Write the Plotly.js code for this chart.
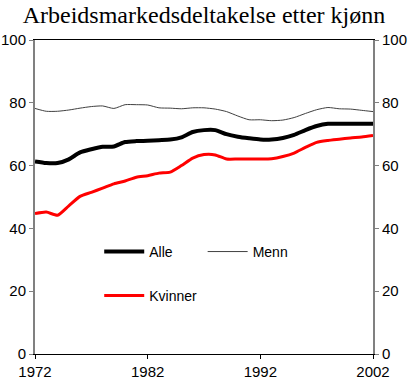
<!DOCTYPE html>
<html><head><meta charset="utf-8">
<script src="https://cdn.plot.ly/plotly-3.0.1.min.js"></script>
<style>html,body{margin:0;padding:0;background:#fff}#c{width:408px;height:384px}</style>
</head><body><div id="c"></div>
<script>
const years = [1972,1973,1974,1975,1976,1977,1978,1979,1980,1981,1982,1983,1984,1985,1986,1987,1988,1989,1990,1991,1992,1993,1994,1995,1996,1997,1998,1999,2000,2001,2002];
const alle = [61.3,60.8,60.8,62.0,64.2,65.2,66.0,66.1,67.5,67.8,67.9,68.1,68.3,69.0,70.7,71.3,71.3,70.0,69.2,68.7,68.3,68.3,68.8,69.8,71.3,72.6,73.3,73.3,73.3,73.3,73.3];
const menn = [78.2,77.3,77.3,77.7,78.3,78.8,79.0,78.2,79.4,79.4,79.3,78.4,78.3,78.1,78.4,78.4,78.0,77.2,75.8,74.6,74.6,74.3,74.5,75.3,76.6,77.8,78.5,78.1,78.0,77.6,77.2];
const kvinner = [44.7,45.2,44.2,47.2,50.2,51.5,52.8,54.2,55.1,56.3,56.8,57.6,57.9,60.0,62.4,63.5,63.4,62.1,62.1,62.1,62.1,62.2,62.9,64.0,65.8,67.4,68.0,68.4,68.8,69.1,69.6];
const titleText = "Arbeidsmarkedsdeltakelse etter kjønn";
const xTicks = [1972,1982,1992,2002];
const yTicks = [0,20,40,60,80,100];

const sans = "Liberation Sans, Arial, sans-serif";
const traces = [
  {x: years, y: alle, name: "Alle", mode: "lines", line: {color: "#000", width: 4, shape: "spline", smoothing: 0.6}, legend: "legend"},
  {x: years, y: menn, name: "Menn", mode: "lines", line: {color: "#404040", width: 1, shape: "spline", smoothing: 0.6}, legend: "legend2", yaxis: "y2"},
  {x: years, y: kvinner, name: "Kvinner", mode: "lines", line: {color: "#ff0000", width: 3, shape: "spline", smoothing: 0.6}, legend: "legend3"}
];
const legBase = {xref: "paper", yref: "paper", xanchor: "left", yanchor: "middle", bgcolor: "rgba(0,0,0,0)", font: {family: sans, size: 14, color: "#000"}, itemwidth: 40};
const layout = {
  width: 408, height: 384,
  margin: {l: 35, r: 35, t: 40, b: 30, pad: 0},
  paper_bgcolor: "#fff", plot_bgcolor: "#fff",
  title: {text: titleText, font: {family: "Liberation Serif, Times New Roman, serif", size: 24, color: "#000"}, x: 0.5, xanchor: "center", y: 1 - 15/384, yanchor: "middle"},
  showlegend: true,
  legend: Object.assign({}, legBase, {x: 0.19, y: 0.325}),
  legend2: Object.assign({}, legBase, {x: 0.496, y: 0.325}),
  legend3: Object.assign({}, legBase, {x: 0.19, y: 0.185}),
  xaxis: {range: [1972, 2002], tickvals: xTicks, ticktext: xTicks.map(String), showgrid: false, zeroline: false,
          showline: true, linecolor: "#000", linewidth: 1, mirror: true, ticks: "outside", ticklen: 4, tickcolor: "#000",
          tickfont: {family: sans, size: 15, color: "#000"}, fixedrange: true},
  yaxis: {range: [0, 100], tickvals: yTicks, showgrid: false, zeroline: false, showline: true, linecolor: "#808080", linewidth: 2,
          ticks: "outside", ticklen: 4, tickcolor: "#808080", tickfont: {family: sans, size: 15, color: "#000"}},
  yaxis2: {range: [0, 100], tickvals: yTicks, overlaying: "y", side: "right", showgrid: false, zeroline: false, showline: true,
          linecolor: "#808080", linewidth: 2, ticks: "outside", ticklen: 4, tickcolor: "#808080", tickfont: {family: sans, size: 15, color: "#000"}}
};
Plotly.newPlot("c", traces, layout, {displayModeBar: false, staticPlot: true});
</script></body></html>
